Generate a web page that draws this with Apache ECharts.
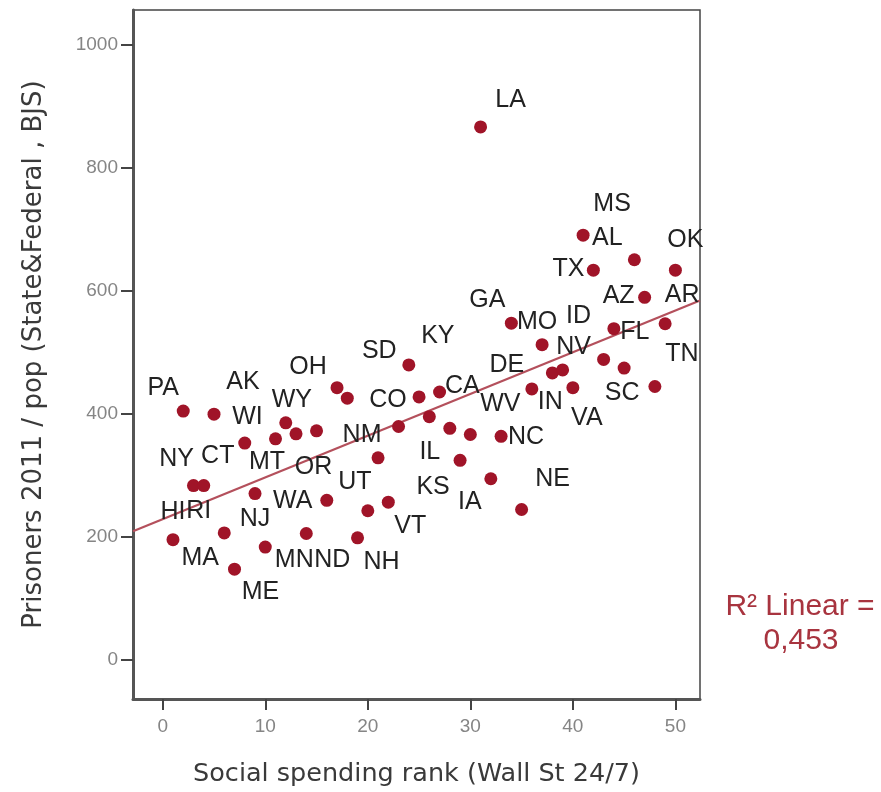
<!DOCTYPE html>
<html>
<head>
<meta charset="utf-8">
<script src="https://cdn.jsdelivr.net/npm/echarts@6/dist/echarts.min.js"></script>
<style>
html,body{margin:0;padding:0;background:#fff;}
#chart{width:881px;height:792px;}
</style>
</head>
<body>
<div id="chart"></div>
<script>
// ---- data ----
const states = ['HI','PA','NY','RI','AK','MA','ME','CT','NJ','MN',
                'WI','WY','MT','ND','OR','WA','OH','SD','NH','UT',
                'NM','VT','','KY','CO','CA','','IL','KS','WV',
                'LA','IA','NC','GA','NE','DE','MO','IN','NV','VA',
                'MS','TX','ID','FL','SC','AL','AZ','TN','AR','OK'];
const spendingRank = [1,2,3,4,5,6,7,8,9,10,11,12,13,14,15,16,17,18,19,20,
                      21,22,23,24,25,26,27,28,29,30,31,32,33,34,35,36,37,38,39,40,
                      41,42,43,44,45,46,47,48,49,50];
const prisonRate = [196,405,284,284,400,207,148,353,271,184,
                    360,386,368,206,373,260,443,426,199,243,
                    329,257,380,480,428,396,436,377,325,367,
                    867,295,364,548,245,441,513,467,472,443,
                    691,634,489,539,475,651,590,445,547,634];
const xTicks = [0,10,20,30,40,50];
const yTicks = [0,200,400,600,800,1000];
const r2Line1 = 'R\u00B2 Linear =';
const r2Line2 = '0,453';

// ---- layout (label placement, not data) ----
const labelOffsets = [
  [0,-28],[-20,-23],[-17,-26],[-5,26],[29,-32],[-24,25],[26,23],[-27,13],[0,26],[29,13],
  [-28,-22],[6,-23],[-29,28],[26,27],[-3,36],[-34,1],[-29,-21],[32,-47],[24,24],[-13,-29],
  [-16,-23],[22,24],[0,0],[29,-29],[-31,3],[33,-31],[0,0],[-20,24],[-27,27],[30,-30],
  [30,-27],[-21,23],[25,1],[-24,-23],[31,-30],[-25,-24],[-5,-23],[-2,29],[11,-23],[14,30],
  [29,-31],[-25,-1],[-25,-43],[21,3],[-2,25],[-27,-22],[-26,-1],[27,-32],[17,-29],[10,-30]
];
const X_MIN = -2.9, X_MAX = 52.4, Y_MIN = -63, Y_MAX = 1057;

// least-squares fit line
const n = spendingRank.length;
let sx=0, sy=0, sxx=0, sxy=0;
for (let i=0;i<n;i++){ sx+=spendingRank[i]; sy+=prisonRate[i]; sxx+=spendingRank[i]*spendingRank[i]; sxy+=spendingRank[i]*prisonRate[i]; }
const slope = (n*sxy - sx*sy)/(n*sxx - sx*sx);
const intercept = (sy - slope*sx)/n;
const fitData = [[X_MIN, intercept + slope*X_MIN],[X_MAX, intercept + slope*X_MAX]];

const pointData = spendingRank.map((x,i)=>({ name: states[i], value: [x, prisonRate[i]] }));

const chart = echarts.init(document.getElementById('chart'), null, {renderer:'canvas'});
const axisText = { color:'#858585', fontFamily:'Liberation Sans, Arial, sans-serif' };
chart.setOption({
  backgroundColor:'#fff',
  animation:false,
  grid:{ left:133, right:181, top:10, bottom:92, show:true, borderColor:'#444', borderWidth:1.5, backgroundColor:'#fff' },
  xAxis:{
    type:'value', min:X_MIN, max:X_MAX,
    name:'Social spending rank (Wall St 24/7)', nameLocation:'middle', nameGap:62,
    nameTextStyle:{ fontSize:25.5, color:'#3a3a3a', fontFamily:'DejaVu Sans, sans-serif' },
    axisLine:{ show:true, onZero:false, lineStyle:{ color:'#555', width:3 } },
    axisTick:{ show:true, length:11, lineStyle:{ color:'#444', width:2 }, customValues:xTicks },
    axisLabel:{ ...axisText, fontSize:19, margin:18, customValues:xTicks, formatter:(v)=>String(v) },
    splitLine:{ show:false }
  },
  yAxis:{
    type:'value', min:Y_MIN, max:Y_MAX,
    name:'Prisoners 2011 / pop (State&Federal , BJS)', nameLocation:'middle', nameGap:86,
    nameTextStyle:{ fontSize:26, color:'#3a3a3a', fontFamily:'DejaVu Sans, sans-serif' },
    axisLine:{ show:true, onZero:false, lineStyle:{ color:'#555', width:3 } },
    axisTick:{ show:true, length:12, lineStyle:{ color:'#444', width:2 }, customValues:yTicks },
    axisLabel:{ ...axisText, fontSize:19, margin:15, customValues:yTicks, formatter:(v)=>String(v) },
    splitLine:{ show:false }
  },
  series:[
    {
      type:'line', data:fitData, symbol:'none', z:1, silent:true,
      lineStyle:{ color:'#b4505c', width:2.2 }
    },
    {
      type:'scatter', data:pointData, symbolSize:13, z:3,
      itemStyle:{ color:'#a01428', opacity:1 },
      label:{ show:true, position:'inside', formatter:'{b}', color:'#222', fontSize:25,
              fontFamily:'Liberation Sans, Arial, sans-serif' },
      labelLayout:(p)=>({ dx: labelOffsets[p.dataIndex][0], dy: labelOffsets[p.dataIndex][1], hideOverlap:false })
    }
  ],
  graphic:[
    { type:'text', x:800, y:607, style:{ text:r2Line1, fill:'#a8343f', font:'30px Liberation Sans, Arial, sans-serif', textAlign:'center', textVerticalAlign:'middle' } },
    { type:'text', x:801, y:641, style:{ text:r2Line2, fill:'#a8343f', font:'30px Liberation Sans, Arial, sans-serif', textAlign:'center', textVerticalAlign:'middle' } }
  ]
});
</script>
</body>
</html>
